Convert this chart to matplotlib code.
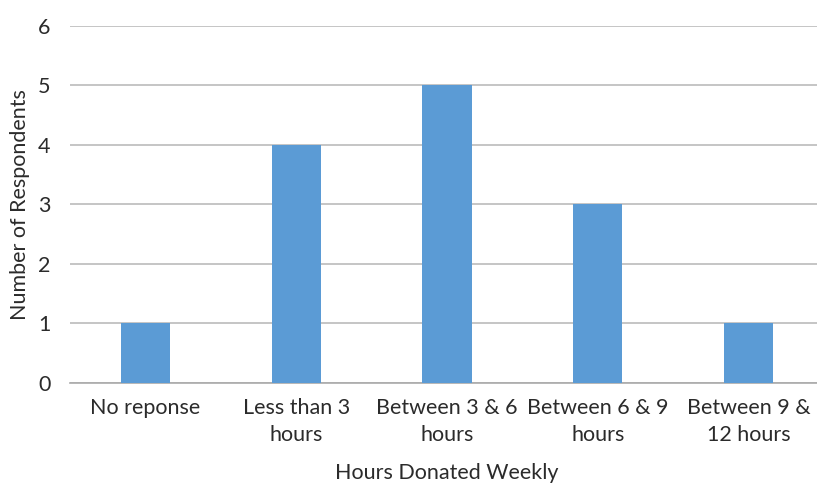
import matplotlib
matplotlib.use("Agg")
import matplotlib.pyplot as plt

categories = ["No reponse", "Less than 3\nhours", "Between 3 & 6\nhours",
              "Between 6 & 9\nhours", "Between 9 &\n12 hours"]
values = [1, 4, 5, 3, 1]
yticks = [0, 1, 2, 3, 4, 5, 6]

plt.rcParams['font.family'] = ['Lato', 'DejaVu Sans']
txt = '#2b2b2b'
fs = 15.5

fig = plt.figure(figsize=(8.17, 4.83), dpi=100)
ax = fig.add_axes([70/817, 1-383/483, (824-70)/817, (383-25.5)/483])
x = range(len(categories))
ax.bar(x, values, width=0.325, color='#5B9BD5', zorder=3)
ax.set_xlim(-0.5, len(categories)-0.5)
ax.set_ylim(0, 6)
ax.set_yticks(yticks)
ax.set_xticks(list(x))
ax.set_xticklabels(categories, fontsize=fs, color=txt, linespacing=1.4)
ax.tick_params(axis='y', labelsize=fs, colors=txt, length=0, pad=14)
ax.tick_params(axis='x', length=0, pad=11)
ax.grid(axis='y', color='#BBBBBB', linewidth=1.2, zorder=0)
for s in ['top', 'right', 'left']:
    ax.spines[s].set_visible(False)
ax.spines['bottom'].set_color('#AAAAAA')
ax.spines['bottom'].set_linewidth(1.2)
ax.set_ylabel("Number of Respondents", fontsize=fs, color=txt, labelpad=6)
ax.set_xlabel("Hours Donated Weekly", fontsize=fs, color=txt, labelpad=13)
fig.savefig("out.png", dpi=100)
